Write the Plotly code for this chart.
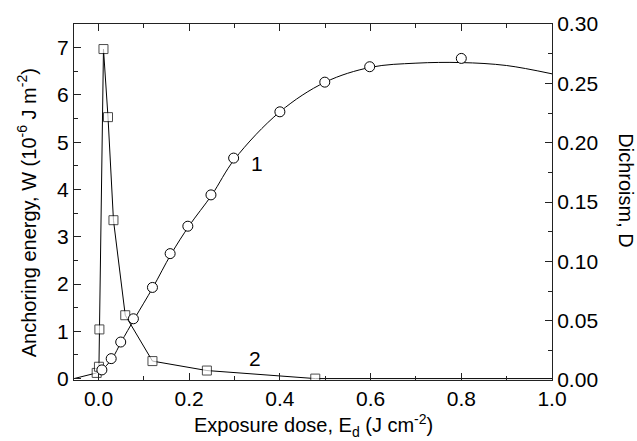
import plotly.graph_objects as go

# Curve 2: anchoring energy W (left axis), squares
sq_x = [-0.054, -0.004, 0.001, 0.002, 0.011, 0.021, 0.033, 0.059, 0.119, 0.239, 0.478, 1.0]
sq_w = [0.0, 0.12, 0.25, 1.04, 6.97, 5.53, 3.35, 1.34, 0.37, 0.17, 0.0, 0.0]
sq_marker = [0, 9, 9, 9, 9, 9, 9, 9, 9, 9, 9, 0]

# Curve 1: dichroism D (right axis), circles
ci_x = [0.0075, 0.028, 0.049, 0.077, 0.119, 0.158, 0.197, 0.248, 0.298, 0.4, 0.499, 0.598, 0.8]
ci_d = [0.0085, 0.018, 0.032, 0.0516, 0.078, 0.1065, 0.1296, 0.156, 0.187, 0.226, 0.251, 0.264, 0.271]

# Smooth fitted line for curve 1
fit_x = [0.0, 0.03, 0.05, 0.08, 0.12, 0.16, 0.2, 0.25, 0.3, 0.4, 0.5, 0.6, 0.7, 0.8, 0.9, 1.0]
fit_d = [0.005, 0.018, 0.032, 0.052, 0.078, 0.106, 0.130, 0.156, 0.186, 0.226, 0.251, 0.2635, 0.267, 0.2675, 0.265, 0.258]

x_ticks = [0.0, 0.2, 0.4, 0.6, 0.8, 1.0]
x_tick_text = ["0.0", "0.2", "0.4", "0.6", "0.8", "1.0"]
y_ticks = [0, 1, 2, 3, 4, 5, 6, 7]
y2_ticks = [0.0, 0.05, 0.10, 0.15, 0.20, 0.25, 0.30]
y2_tick_text = ["0.00", "0.05", "0.10", "0.15", "0.20", "0.25", "0.30"]

FONT = "Arial, Liberation Sans, sans-serif"
AX = "#222222"

fig = go.Figure()
fig.add_trace(go.Scatter(x=fit_x, y=fit_d, yaxis="y2", mode="lines",
                         line=dict(color="black", width=1, shape="spline", smoothing=1.0),
                         hoverinfo="skip"))
fig.add_trace(go.Scatter(x=ci_x, y=ci_d, yaxis="y2", mode="markers",
                         marker=dict(symbol="circle", size=10, color="white",
                                     line=dict(color="black", width=1))))
fig.add_trace(go.Scatter(x=sq_x, y=sq_w, mode="lines+markers",
                         line=dict(color="black", width=1),
                         marker=dict(symbol="square", size=sq_marker, color="white",
                                     line=dict(color="black", width=1))))

axis_common = dict(showline=True, linecolor=AX, linewidth=1, ticks="inside",
                   tickcolor=AX, tickwidth=1, ticklen=7, showgrid=False, zeroline=False,
                   tickfont=dict(family=FONT, size=21, color="black"))

fig.update_layout(
    width=637, height=441,
    margin=dict(l=74, r=85, t=24, b=61),
    paper_bgcolor="white", plot_bgcolor="white",
    showlegend=False,
    xaxis=dict(range=[-0.054, 1.0], tickvals=x_ticks, ticktext=x_tick_text, mirror="ticks",
               minor=dict(ticks="inside", ticklen=4, dtick=0.1, tick0=0, tickcolor=AX),
               **axis_common),
    yaxis=dict(range=[-0.03, 7.5], tickvals=y_ticks,
               minor=dict(ticks="inside", ticklen=4, dtick=0.5, tick0=0, tickcolor=AX),
               **axis_common),
    yaxis2=dict(range=[0, 0.30], tickvals=y2_ticks, ticktext=y2_tick_text,
                overlaying="y", side="right",
                minor=dict(ticks="inside", ticklen=4, dtick=0.025, tick0=0, tickcolor=AX),
                **axis_common),
    annotations=[
        dict(text="Exposure dose, E<sub>d</sub> (J cm<sup>-2</sup>)", xref="paper", yref="paper",
             x=0.5, y=-0.127, xanchor="center", yanchor="middle", showarrow=False,
             font=dict(family=FONT, size=20, color="black")),
        dict(text="Anchoring energy, W (10<sup>-6</sup> J m<sup>-2</sup>)", xref="paper", yref="paper",
             x=-0.10, y=0.469, xanchor="center", yanchor="middle", textangle=-90, showarrow=False,
             font=dict(family=FONT, size=20, color="black")),
        dict(text="Dichroism, D", xref="paper", yref="paper",
             x=1.154, y=0.534, xanchor="center", yanchor="middle", textangle=90, showarrow=False,
             font=dict(family=FONT, size=20, color="black")),
        dict(text="1", xref="x", yref="y", x=0.35, y=4.55, showarrow=False,
             font=dict(family=FONT, size=21, color="black")),
        dict(text="2", xref="x", yref="y", x=0.346, y=0.43, showarrow=False,
             font=dict(family=FONT, size=21, color="black")),
    ],
)

fig.write_html("out.html", config={"displayModeBar": False},
               post_script="document.body.style.margin='0';document.body.style.overflow='hidden';")
